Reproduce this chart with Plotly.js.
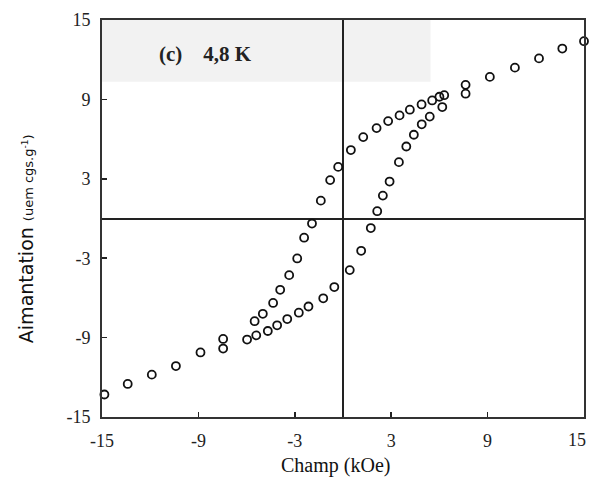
<!DOCTYPE html>
<html>
<head>
<meta charset="utf-8">
<script src="https://cdn.plot.ly/plotly-3.0.1.min.js"></script>
<style>html,body{margin:0;padding:0;background:#fff;}#chart{width:590px;height:485px;}</style>
</head>
<body>
<div id="chart"></div>
<script>
// Descending branch (upper curve), field in kOe, magnetisation in uem cgs/g
var fieldDown = [15.0, 13.65, 12.2, 10.7, 9.14, 7.63, 6.3, 6.0, 5.55, 4.89, 4.16, 3.52, 2.81, 2.09, 1.26, 0.49, -0.3, -0.8, -1.38, -1.93, -2.42, -2.85, -3.35, -3.91, -4.35, -4.99, -5.5, -7.46, -8.87, -10.4, -11.9, -13.4, -14.85];
var magDown   = [13.4, 12.84, 12.1, 11.4, 10.7, 10.1, 9.32, 9.2, 8.92, 8.62, 8.22, 7.79, 7.36, 6.83, 6.15, 5.17, 3.9, 2.9, 1.35, -0.38, -1.45, -3.02, -4.28, -5.39, -6.38, -7.2, -7.76, -9.1, -10.12, -11.15, -11.8, -12.5, -13.3];
// Ascending branch (lower curve)
var fieldUp = [-7.46, -5.97, -5.4, -4.68, -4.1, -3.47, -2.75, -2.15, -1.23, -0.54, 0.42, 1.13, 1.73, 2.13, 2.48, 2.9, 3.48, 3.94, 4.41, 4.9, 5.4, 6.18, 7.63];
var magUp   = [-9.83, -9.15, -8.83, -8.5, -8.07, -7.6, -7.12, -6.65, -6.03, -5.18, -3.9, -2.44, -0.72, 0.55, 1.73, 2.79, 4.26, 5.44, 6.33, 7.12, 7.7, 8.42, 9.43];

var tickVals = [-15, -9, -3, 3, 9, 15];
var yTickText = ['-15', '-9', '-3', '3', '9', '15'];
var xTickText = ['-15', '-9', '-3', '3', '9', ''];
var lastXTick = '15';
var panelLabel = '(c)&nbsp;&nbsp;&nbsp;&nbsp;4,8 K';
var xTitle = 'Champ (kOe)';
var yTitle = 'Aimantation <span style="font-size:13px">(uem cgs.g<sup>-1</sup>)</span>';

var marker = {symbol: 'circle-open', size: 8, color: '#111', line: {width: 1.8, color: '#111'}};

var traces = [
  {x: fieldDown, y: magDown, mode: 'markers', type: 'scatter', marker: marker, hoverinfo: 'x+y', cliponaxis: false},
  {x: fieldUp, y: magUp, mode: 'markers', type: 'scatter', marker: marker, hoverinfo: 'x+y', cliponaxis: false}
];

var tickFont = {family: 'Liberation Serif, Times New Roman, serif', size: 18, color: '#222'};

var axisCommon = {
  range: [-15, 15],
  tickvals: tickVals,
  ticks: 'inside',
  ticklen: 5,
  tickwidth: 1.5,
  tickcolor: '#222',
  showline: true,
  mirror: true,
  linecolor: '#333',
  linewidth: 2,
  showgrid: false,
  zeroline: true,
  zerolinecolor: '#222',
  zerolinewidth: 2,
  tickfont: tickFont,
  fixedrange: true
};

var layout = {
  width: 590,
  height: 485,
  margin: {l: 102, r: 6, t: 20, b: 68},
  paper_bgcolor: '#fff',
  plot_bgcolor: '#fff',
  showlegend: false,
  xaxis: Object.assign({}, axisCommon, {ticktext: xTickText, ticklabelstandoff: 6}),
  yaxis: Object.assign({}, axisCommon, {ticktext: yTickText, ticklabelstandoff: 6}),
  shapes: [
    {type: 'rect', xref: 'x', yref: 'y', x0: -15, x1: 5.45, y0: 10.34, y1: 15, fillcolor: '#f2f2f2', line: {width: 0}, layer: 'below'}
  ],
  annotations: [
    {text: lastXTick, xref: 'x', yref: 'paper', x: 15, y: -0.058, showarrow: false, xanchor: 'right', yanchor: 'middle', xshift: 4,
     font: tickFont},
    {text: panelLabel, xref: 'x', yref: 'y', x: -8.56, y: 12.46, showarrow: false, xanchor: 'center', yanchor: 'middle',
     font: {family: 'Liberation Serif, Times New Roman, serif', size: 21, color: '#222', weight: 'bold'}},
    {text: xTitle, xref: 'paper', yref: 'paper', x: 0.485, y: -0.123, showarrow: false, xanchor: 'center', yanchor: 'middle',
     font: {family: 'Liberation Serif, Times New Roman, serif', size: 20, color: '#111'}},
    {text: yTitle, xref: 'paper', yref: 'paper', x: -0.156, y: 0.45, showarrow: false, textangle: -90, xanchor: 'center', yanchor: 'middle',
     font: {family: 'DejaVu Sans, sans-serif', size: 19, color: '#111'}}
  ]
};

Plotly.newPlot('chart', traces, layout, {displayModeBar: false, staticPlot: true});
</script>
</body>
</html>
